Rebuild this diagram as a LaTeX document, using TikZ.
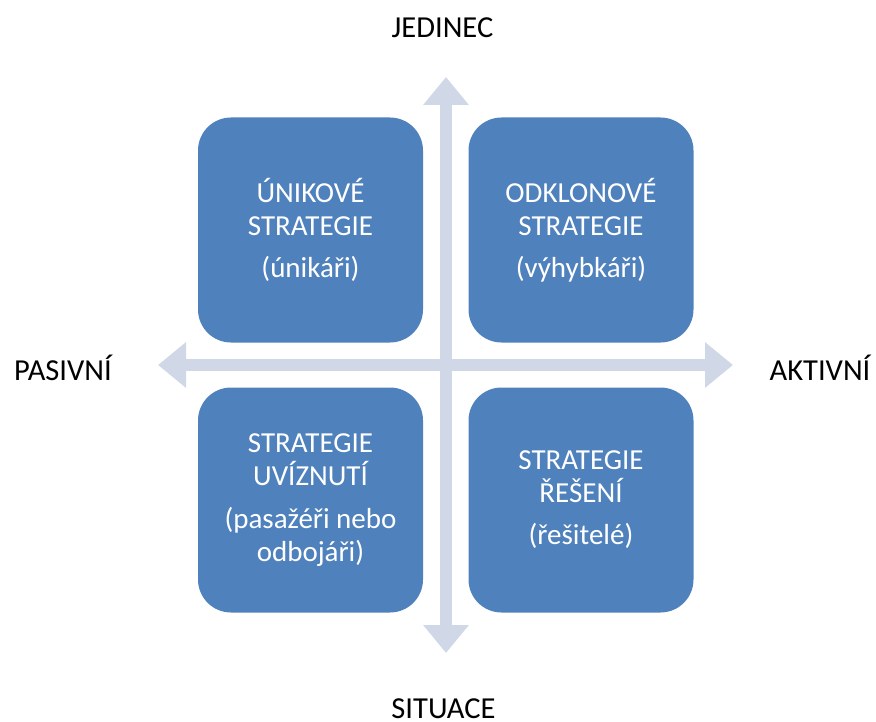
\documentclass[tikz,border=0pt]{standalone}
\usepackage{fontspec}
\setmainfont{Carlito}
\usetikzlibrary{arrows.meta}
\definecolor{boxblue}{HTML}{4F81BD}
\definecolor{axisgray}{HTML}{D0D8E8}
\newcommand{\boxsize}{225bp}
\newcommand{\shaft}{12bp}

\begin{document}
\begin{tikzpicture}[x=1bp,y=-1bp,
  quad/.style={fill=boxblue,text=white,rounded corners=33bp,minimum width=\boxsize,minimum height=\boxsize,inner sep=0pt,align=center,font=\fontsize{29bp}{33bp}\selectfont},
  axis/.style={draw=axisgray,line width=\shaft,>={Triangle[length=28bp,width=44bp]},<->},
  axislabel/.style={anchor=base,inner sep=0pt,font=\fontsize{30.5bp}{36bp}\selectfont}]
\useasboundingbox (0,0) rectangle (876,722);
\coordinate (w) at (158,365);
\coordinate (e) at (733,365);
\coordinate (n) at (446,77);
\coordinate (s) at (446,653);
\draw[axis] (w) -- (e);
\draw[axis] (n) -- (s);
\node[quad] (unik) at (310.5,230) {ÚNIKOVÉ\\STRATEGIE\\[9bp](únikáři)};
\node[quad] (odklon) at (581,230) {ODKLONOVÉ\\STRATEGIE\\[9bp](výhybkáři)};
\node[quad] (uvizn) at (310.5,500) {STRATEGIE\\UVÍZNUTÍ\\[10bp](pasažéři nebo\\odbojáři)};
\node[quad] (reseni) at (581,500) {STRATEGIE\\ŘEŠENÍ\\[9bp](řešitelé)};
\node[axislabel] (jedinec) at (442.5,38) {JEDINEC};
\node[axislabel] (situace) at (443.5,718) {SITUACE};
\node[axislabel] (pasivni) at (63,380) {PASIVNÍ};
\node[axislabel] (aktivni) at (820,380) {AKTIVNÍ};
\end{tikzpicture}
\end{document}
